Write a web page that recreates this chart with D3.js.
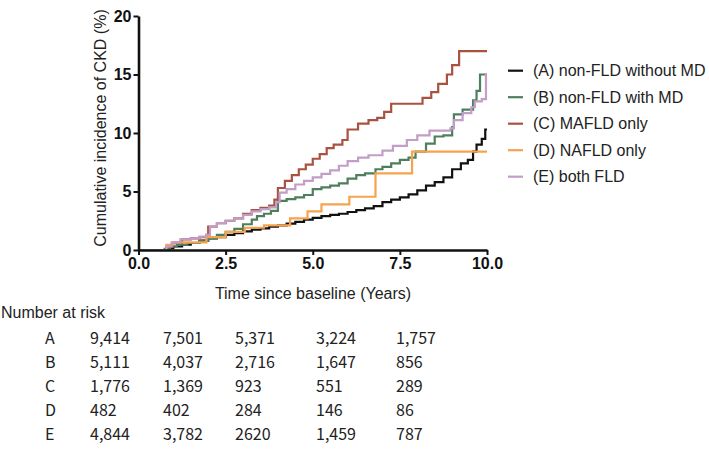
<!DOCTYPE html>
<html>
<head>
<meta charset="utf-8">
<script src="https://cdn.jsdelivr.net/npm/d3@7"></script>
<style>
  html, body { margin: 0; padding: 0; background: #ffffff; }
  svg { display: block; }
</style>
</head>
<body>
<svg id="chart" width="709" height="466"></svg>
<script>
// ---- Data ----
const seriesNames = ["(A) non-FLD without MD", "(B) non-FLD with MD", "(C) MAFLD only", "(D) NAFLD only", "(E) both FLD"];
const seriesColors = ["#111111", "#4e7f5c", "#a9523f", "#f7a24c", "#c29dc8"];

const timesA  = [0, 0.9, 1.0, 1.25, 1.5, 1.75, 2.0, 2.25, 2.5, 2.75, 3.0, 3.25, 3.5, 3.75, 4.0, 4.25, 4.5, 4.75, 5.0, 5.25, 5.5, 5.75, 6.0, 6.25, 6.5, 6.75, 7.0, 7.25, 7.5, 7.75, 8.0, 8.25, 8.5, 8.75, 9.0, 9.25, 9.45, 9.6, 9.7, 9.85, 9.95];
const valuesA = [0, 0.15, 0.3, 0.45, 0.6, 0.8, 1.0, 1.1, 1.3, 1.45, 1.6, 1.75, 1.85, 2.0, 2.1, 2.25, 2.4, 2.6, 2.75, 2.9, 3.0, 3.1, 3.25, 3.4, 3.55, 3.75, 4.1, 4.3, 4.5, 4.75, 5.1, 5.5, 5.8, 6.2, 6.9, 7.4, 7.7, 8.4, 9.0, 9.5, 10.3];

const timesB  = [0, 0.75, 0.9, 1.1, 1.4, 1.75, 2.0, 2.25, 2.5, 2.75, 3.0, 3.25, 3.4, 3.6, 3.8, 4.0, 4.25, 4.5, 4.75, 5.0, 5.25, 5.5, 5.75, 6.0, 6.25, 6.5, 6.8, 7.0, 7.25, 7.5, 7.75, 7.95, 8.25, 8.5, 8.75, 9.0, 9.05, 9.3, 9.6, 9.7, 9.8];
const valuesB = [0, 0.1, 0.3, 0.45, 0.6, 0.8, 1.0, 1.3, 1.55, 1.8, 2.2, 2.6, 2.9, 3.1, 3.35, 4.2, 4.35, 4.5, 4.7, 5.2, 5.35, 5.5, 5.7, 6.1, 6.4, 6.55, 6.9, 7.1, 7.4, 7.7, 7.9, 8.4, 9.1, 9.7, 9.8, 10.5, 11.6, 12.0, 12.8, 13.6, 15.0];

const timesC  = [0, 0.8, 1.0, 1.25, 1.5, 1.75, 1.95, 2.0, 2.25, 2.5, 2.75, 3.0, 3.25, 3.5, 3.75, 3.9, 4.0, 4.2, 4.4, 4.6, 4.8, 5.0, 5.2, 5.4, 5.6, 5.85, 6.0, 6.3, 6.6, 6.85, 7.05, 7.25, 8.15, 8.4, 8.6, 8.85, 9.0, 9.2];
const valuesC = [0, 0.3, 0.6, 0.9, 1.0, 1.1, 1.3, 2.0, 2.3, 2.5, 2.7, 3.1, 3.4, 3.6, 3.8, 4.3, 5.3, 5.9, 6.4, 6.9, 7.3, 7.8, 8.2, 8.7, 9.0, 9.4, 10.3, 10.8, 11.1, 11.3, 11.8, 12.5, 13.0, 13.5, 14.2, 15.0, 15.8, 17.0];

const timesD  = [0, 0.8, 1.0, 1.95, 2.5, 3.05, 3.6, 4.35, 4.85, 5.25, 6.05, 6.8, 7.85];
const valuesD = [0, 0.45, 0.65, 1.1, 1.55, 1.9, 2.1, 2.7, 3.3, 3.9, 4.55, 6.55, 8.4];

const timesE  = [0, 0.8, 0.95, 1.2, 1.5, 1.75, 1.95, 2.05, 2.25, 2.5, 2.75, 3.0, 3.25, 3.5, 3.75, 3.95, 4.05, 4.25, 4.5, 4.75, 5.0, 5.25, 5.5, 5.75, 6.0, 6.3, 6.6, 7.0, 7.3, 7.7, 8.0, 8.35, 8.95, 9.05, 9.3, 9.55, 9.65, 9.85, 9.97];
const valuesE = [0, 0.3, 0.65, 0.9, 1.0, 1.15, 1.3, 2.0, 2.3, 2.5, 2.7, 3.0, 3.3, 3.5, 3.65, 4.1, 4.9, 5.2, 5.6, 5.9, 6.2, 6.5, 6.8, 7.2, 7.6, 7.9, 8.1, 8.5, 8.9, 9.4, 9.8, 10.2, 10.4, 11.1, 11.7, 12.2, 12.7, 12.9, 15.0];

const xTicks = [0, 2.5, 5, 7.5, 10];
const yTicks = [0, 5, 10, 15, 20];

const riskLabels = ["A", "B", "C", "D", "E"];
const riskA = ["9,414", "7,501", "5,371", "3,224", "1,757"];
const riskB = ["5,111", "4,037", "2,716", "1,647", "856"];
const riskC = ["1,776", "1,369", "923", "551", "289"];
const riskD = ["482", "402", "284", "146", "86"];
const riskE = ["4,844", "3,782", "2620", "1,459", "787"];

// ---- Drawing ----
const svg = d3.select("#chart");
const x = d3.scaleLinear().domain([0, 10]).range([138.5, 487]);
const y = d3.scaleLinear().domain([0, 20]).range([250, 16]);

const allTimes = [timesA, timesB, timesC, timesD, timesE];
const allValues = [valuesA, valuesB, valuesC, valuesD, valuesE];

const line = d3.line()
  .x(d => x(d[0]))
  .y(d => y(d[1]))
  .curve(d3.curveStepAfter);

allTimes.forEach((ts, i) => {
  const vs = allValues[i];
  const pts = ts.map((t, j) => [t, vs[j]]);
  pts.push([10, vs[vs.length - 1]]);
  svg.append("path")
    .datum(pts)
    .attr("fill", "none")
    .attr("stroke", seriesColors[i])
    .attr("stroke-width", 2.2)
    .attr("stroke-linejoin", "miter")
    .attr("d", line);
});

// Axes
const xAxis = d3.axisBottom(x).tickValues(xTicks).tickFormat(d3.format(".1f")).tickSize(5).tickSizeOuter(0).tickPadding(3);
const yAxis = d3.axisLeft(y).tickValues(yTicks).tickFormat(d3.format("d")).tickSize(5).tickSizeOuter(0).tickPadding(2);

const gx = svg.append("g").attr("transform", `translate(0,${y(0)})`).call(xAxis);
const gy = svg.append("g").attr("transform", `translate(${x(0)},0)`).call(yAxis);

[gx, gy].forEach(g => {
  g.select(".domain").attr("stroke", "#111").attr("stroke-width", 2.6);
  g.selectAll(".tick line").attr("stroke", "#111").attr("stroke-width", 2);
  g.selectAll(".tick text")
    .attr("fill", "#111")
    .style("font-family", "Liberation Sans, Arial, sans-serif")
    .style("font-weight", "bold")
    .style("font-size", "16px");
});

// Axis titles
svg.append("text")
  .attr("transform", `translate(106,${(16 + 250) / 2 - 5}) rotate(-90)`)
  .attr("text-anchor", "middle")
  .style("font-family", "Liberation Sans, Arial, sans-serif")
  .style("font-size", "16px")
  .attr("fill", "#222")
  .text("Cumulative incidence of CKD (%)");

svg.append("text")
  .attr("x", 313)
  .attr("y", 299)
  .attr("text-anchor", "middle")
  .style("font-family", "Liberation Sans, Arial, sans-serif")
  .style("font-size", "16px")
  .attr("fill", "#222")
  .text("Time since baseline (Years)");

// Legend
const legend = svg.append("g");
const legendY = d3.scalePoint().domain(seriesNames).range([70.7, 176.7]);
seriesNames.forEach((name, i) => {
  const ly = legendY(name);
  legend.append("line")
    .attr("x1", 508).attr("x2", 523)
    .attr("y1", ly).attr("y2", ly)
    .attr("stroke", seriesColors[i])
    .attr("stroke-width", 2.2);
  legend.append("text")
    .attr("x", 533).attr("y", ly)
    .attr("dy", "0.36em")
    .style("font-family", "Liberation Sans, Arial, sans-serif")
    .style("font-size", "16px")
    .attr("fill", "#222")
    .text(name);
});

// Number at risk table
svg.append("text")
  .attr("x", 1).attr("y", 318)
  .style("font-family", "Liberation Sans, Arial, sans-serif")
  .style("font-size", "16px")
  .attr("fill", "#222")
  .text("Number at risk");

const riskRows = [riskA, riskB, riskC, riskD, riskE];
const rowY = d3.scalePoint().domain(riskLabels).range([338, 434]);
const colX = [90, 163, 235, 316, 396];
const tableFont = "'Noto Sans CJK SC', 'Noto Sans', sans-serif";
riskLabels.forEach((lab, i) => {
  const ry = rowY(lab);
  svg.append("text")
    .attr("x", 45).attr("y", ry).attr("dy", "0.35em")
    .style("font-family", tableFont)
    .style("font-size", "16px")
    .attr("fill", "#222")
    .text(lab);
  riskRows[i].forEach((v, j) => {
    svg.append("text")
      .attr("x", colX[j]).attr("y", ry).attr("dy", "0.35em")
      .style("font-family", tableFont)
      .style("font-size", "16px")
      .attr("fill", "#222")
      .text(v);
  });
});
</script>
</body>
</html>
